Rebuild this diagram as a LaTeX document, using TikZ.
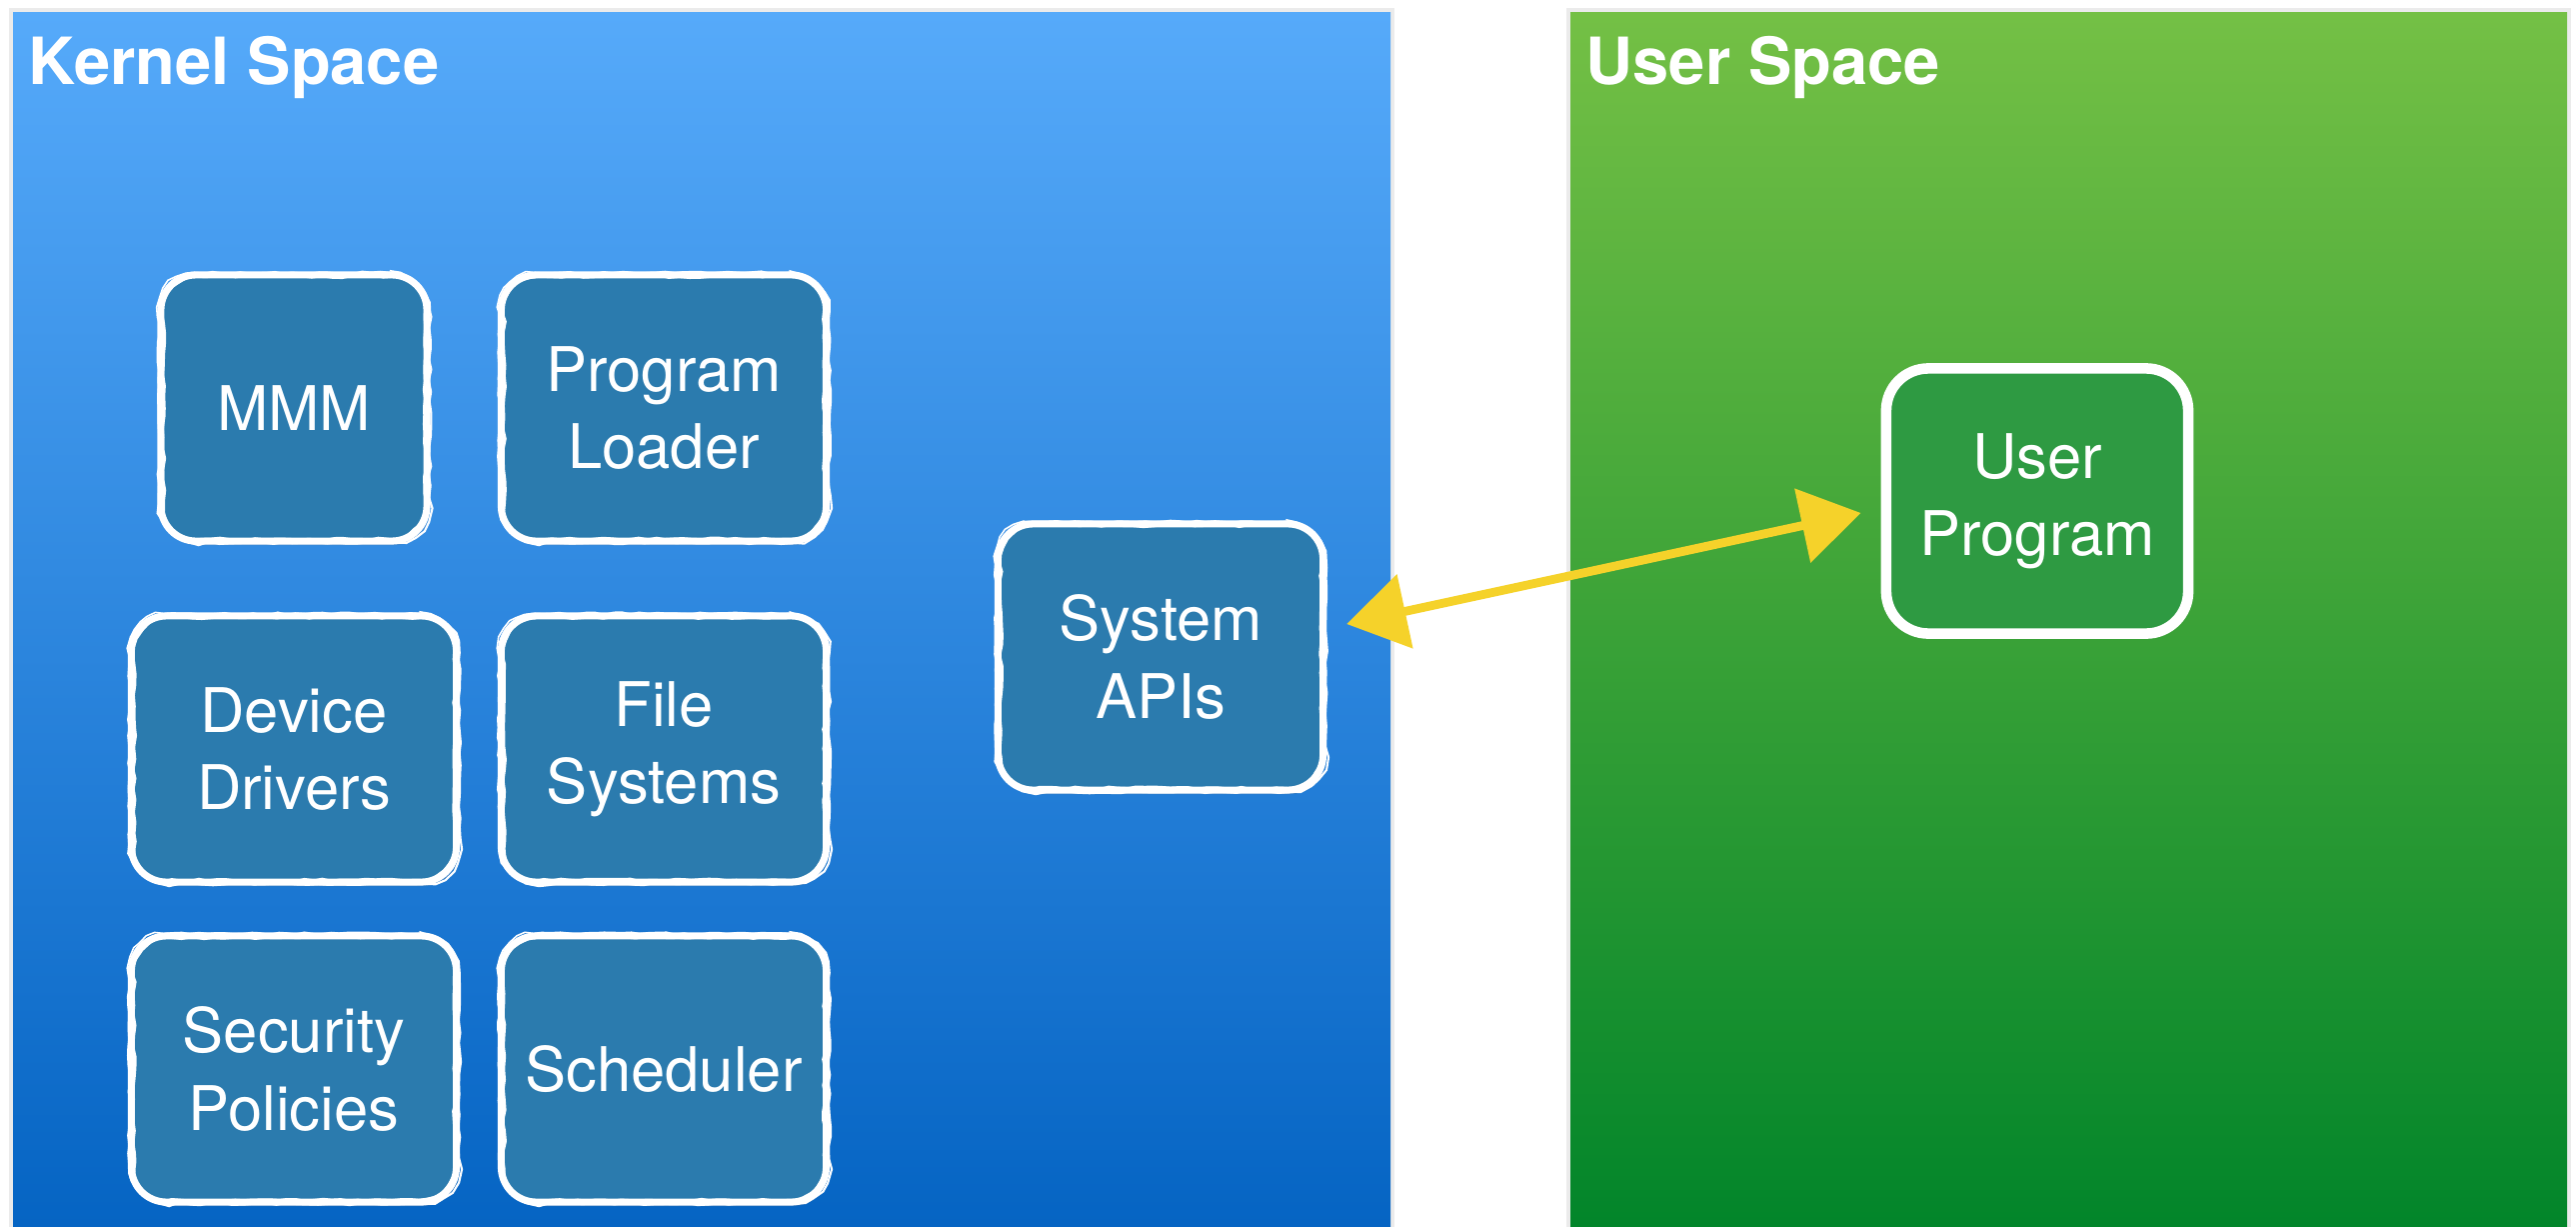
\documentclass[tikz,border=0pt]{standalone}
\usepackage{fontspec}
\setmainfont{TeX Gyre Heros}
\usetikzlibrary{arrows.meta,decorations.pathmorphing,calc,shadows}

\definecolor{kerneltop}{HTML}{56AAFA}
\definecolor{kernelbot}{HTML}{0564C3}
\definecolor{usertop}{HTML}{74C045}
\definecolor{userbot}{HTML}{02852A}
\definecolor{kfill}{HTML}{2B7BAE}
\definecolor{ufill}{HTML}{2E9A42}
\definecolor{chalk}{HTML}{F5D22A}

\tikzset{
  paneltitle/.style={text=white, inner sep=0pt, anchor=base west,
    font=\bfseries\fontsize{18.5}{22}\selectfont},
  panelshade/.style={fill=black, opacity=0.08},
  sketchy/.style={
    postaction={draw=white, line width=0.6pt, sharp corners, decorate,
      decoration={random steps, segment length=3pt, amplitude=0.4pt},
      transform canvas={shift={(0.9pt,-0.5pt)}}},
    postaction={draw=white, line width=0.45pt, sharp corners, decorate,
      decoration={random steps, segment length=2.5pt, amplitude=0.35pt},
      transform canvas={shift={(-0.7pt,0.7pt)}}}
  },
  kbox/.style={rectangle, rounded corners=10pt, fill=kfill, draw=white,
    line width=2pt, minimum width=3.25cm, minimum height=2.66cm,
    align=center, text=white, inner sep=2pt,
    font=\fontsize{17.5}{22}\selectfont,
    drop shadow={opacity=0.22, shadow xshift=0.6pt, shadow yshift=-1.2pt},
    sketchy},
  ubox/.style={rectangle, rounded corners=12pt, fill=ufill, draw=white,
    line width=3pt, minimum width=3.02cm, minimum height=2.65cm,
    align=center, text=white, inner sep=2pt,
    font=\fontsize{17.5}{22}\selectfont,
    drop shadow={opacity=0.22, shadow xshift=0.6pt, shadow yshift=-1.2pt}},
  chalkline/.style={draw=chalk, line width=2.5pt,
    {Triangle[length=17pt,width=21pt]}-{Triangle[length=17pt,width=21pt]}},
  chalkgrain/.style={draw=chalk, line width=0.6pt, sharp corners, decorate,
    decoration={random steps, segment length=2pt, amplitude=0.9pt}}
}

\begin{document}
\begin{tikzpicture}[x=0.01cm, y=-0.01cm]
  \pgfmathsetseed{4217}
  \useasboundingbox (0,0) rectangle (2577,1227);
  \fill[white] (0,0) rectangle (2577,1227);

  % panels with a faint halo
  \fill[panelshade] (9,8) rectangle (1395,1227);
  \fill[panelshade] (1567,8) rectangle (2572,1227);
  \shade[top color=kerneltop, bottom color=kernelbot] (13,12) rectangle (1391,1227);
  \shade[top color=usertop, bottom color=userbot] (1571,12) rectangle (2568,1227);

  \node[paneltitle] (ktitle) at (28,84) {Kernel Space};
  \node[paneltitle] (utitle) at (1586,84) {User Space};

  % kernel components
  \node[kbox, minimum width=2.66cm] (mmm) at (294,408) {MMM};
  \node[kbox] (loader) at (664,408) {Program\\Loader};
  \node[kbox] (drivers) at (294,749) {Device\\Drivers};
  \node[kbox] (fs) at (664,749) {File\\Systems};
  \node[kbox] (security) at (294,1069) {Security\\Policies};
  \node[kbox] (sched) at (664,1069) {Scheduler};
  \node[kbox] (sys) at (1161,657) {System\\APIs};

  % user side
  \node[ubox] (up) at (2038,501) {User\\Program};

  % system call path
  \coordinate (la) at ($(sys.east)+(20,-33)$);
  \coordinate (ra) at ($(up.west)+(-20,12)$);
  \coordinate (lg) at ($(la)!0.1!(ra)$);
  \coordinate (rg) at ($(la)!0.9!(ra)$);
  \draw[chalkline] (la) -- (ra);
  \draw[chalkgrain] (lg) -- (rg);
\end{tikzpicture}
\end{document}
